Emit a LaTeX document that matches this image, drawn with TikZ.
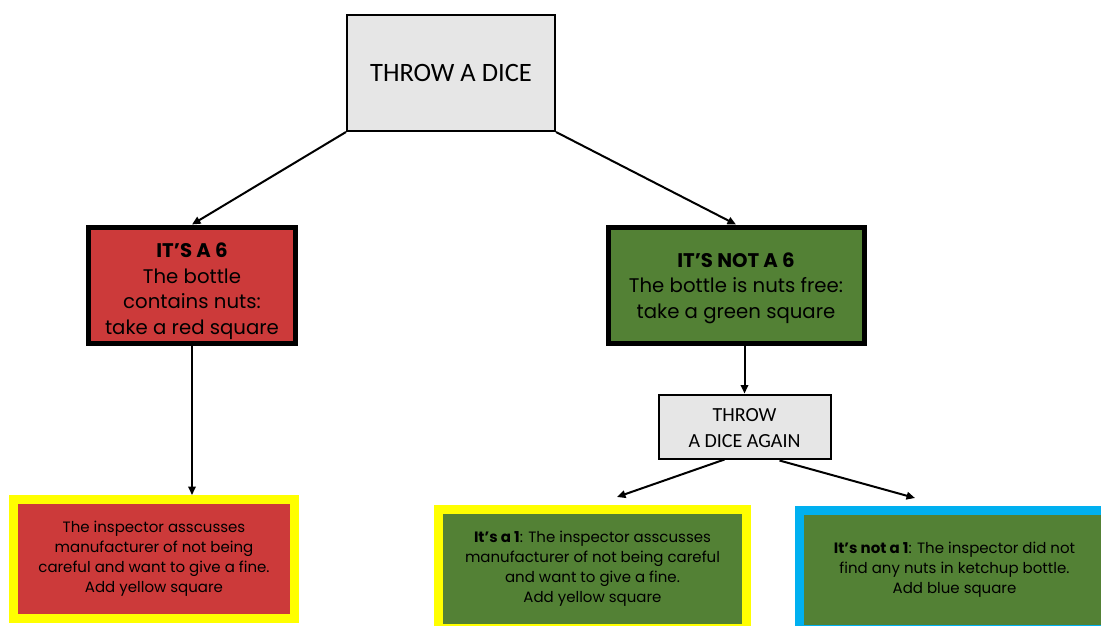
\documentclass[tikz,border=0pt]{standalone}
\usepackage{fontspec}
\setmainfont{Poppins}
\newfontfamily\calib{Carlito}
\usetikzlibrary{arrows.meta,calc}
\definecolor{boxgray}{RGB}{230,230,230}
\definecolor{boxred}{RGB}{204,58,58}
\definecolor{boxgreen}{RGB}{83,129,53}
\definecolor{bordyellow}{RGB}{255,255,0}
\definecolor{bordblue}{RGB}{0,176,240}
\tikzset{
  graybox/.style={draw=black, line width=2pt, fill=boxgray, align=center, inner sep=0pt},
  bigbox/.style={draw=black, line width=5pt, align=center, inner sep=0pt, font={\fontsize{19.7}{25.5}\selectfont}},
  leafbox/.style={line width=9pt, align=center, inner sep=0pt, minimum width=281pt, minimum height=119pt, font={\fontsize{15}{20}\selectfont}},
  conn/.style={line width=2pt, -{Triangle[length=8.5pt,width=7.5pt]}},
}
\begin{document}
\begin{tikzpicture}[x=1pt,y=-1pt]
\clip (0,0) rectangle (1101,626);
\fill[white] (0,0) rectangle (1101,626);
\node[graybox, minimum width=208pt, minimum height=116pt, font={\calib\fontsize{26.5}{30}\selectfont}] (top) at (451,73)
  {THROW A DICE};
\node[bigbox, fill=boxred, minimum width=207pt, minimum height=116pt] (red) at (192,285)
  {\parbox{200pt}{\centering\vspace*{12pt}\textbf{IT’S A 6}\\The bottle\\contains nuts:\\take a red square}};
\node[bigbox, fill=boxgreen, minimum width=256pt, minimum height=116pt] (green) at (736,285)
  {\parbox{250pt}{\centering\vspace*{6pt}\textbf{IT’S NOT A 6}\\The bottle is nuts free:\\take a green square}};
\node[graybox, minimum width=172pt, minimum height=64pt, font={\calib\fontsize{20}{26}\selectfont}] (again) at (744.5,426.5)
  {\parbox{170pt}{\centering\vspace*{4pt}THROW\\A DICE AGAIN}};
\node[leafbox, draw=bordyellow, fill=boxred] (bl) at (154,559)
  {The inspector asscusses\\manufacturer of not being\\careful and want to give a fine.\\Add yellow square};
\node[leafbox, draw=bordyellow, fill=boxgreen, minimum width=308pt] (bm) at (592.5,569)
  {\textbf{It’s a 1}: The inspector asscusses\\manufacturer of not being careful\\and want to give a fine.\\Add yellow square};
\node[leafbox, draw=bordblue, fill=boxgreen, minimum width=310pt] (br) at (954.5,569.5)
  {\raisebox{12pt}{\parbox{290pt}{\centering\fontsize{15}{20}\selectfont\textbf{It’s not a 1}: The inspector did not\\find any nuts in ketchup bottle.\\Add blue square}}};
\coordinate (e1) at (617,497);
\coordinate (e2) at (915,498);
\draw[conn] (top.south west) -- (red.north);
\draw[conn] (top.south east) -- (green.north);
\draw[conn] (red.south) -- (red.south |- bl.north);
\draw[conn] (again.north |- green.south) -- (again.north);
\draw[conn] ($(again.south)+(-20,0)$) -- (e1);
\draw[conn] ($(again.south)+(35,1)$) -- (e2);
\end{tikzpicture}
\end{document}
